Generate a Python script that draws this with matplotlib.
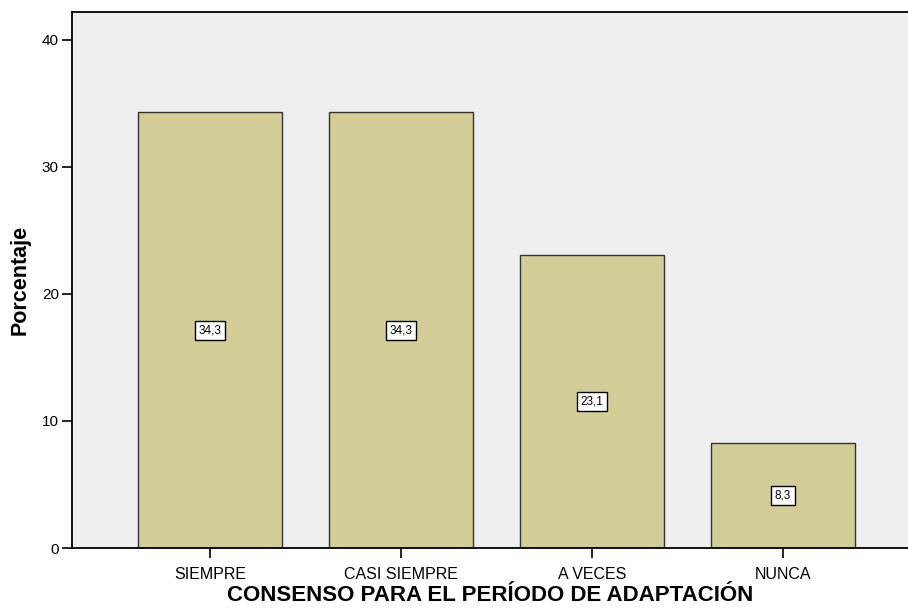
import matplotlib
matplotlib.use("Agg")
from matplotlib import pyplot as plt

# datos
categorias = ['SIEMPRE', 'CASI SIEMPRE', 'A VECES', 'NUNCA']
porcentajes = [34.3, 34.3, 23.1, 8.3]
etiquetas = ['34,3', '34,3', '23,1', '8,3']

plt.rcParams['font.family'] = ['Liberation Sans', 'DejaVu Sans']

fig = plt.figure(figsize=(9.08, 6.14), dpi=100)
ax = fig.add_axes([72/908, 66/614, 836/908, 536/614])
ax.set_facecolor('#efefef')

x = list(range(len(categorias)))
ax.bar(x, porcentajes, width=0.754, color='#d3ce97', edgecolor='#333333', linewidth=1.0, zorder=2)

for xi, v, t in zip(x, porcentajes, etiquetas):
    ax.text(xi, v / 2, t, ha='center', va='center', fontsize=8.5, zorder=3,
            bbox=dict(boxstyle='square,pad=0.3', facecolor='white', edgecolor='black', linewidth=1.0))

ax.set_xlim(-0.723, 3.654)
ax.set_ylim(0, 42.2)
ax.set_yticks([0, 10, 20, 30, 40])
ax.set_xticks(x)
ax.set_xticklabels(categorias)
ax.tick_params(axis='both', direction='out', length=7.5, width=1.2, labelsize=11, pad=2)
ax.tick_params(axis='x', labelsize=11.5, pad=6)

for s in ['left', 'bottom', 'top']:
    ax.spines[s].set_linewidth(1.3)
ax.spines['right'].set_visible(False)

ax.set_xlabel('CONSENSO PARA EL PERÍODO DE ADAPTACIÓN', fontsize=16, fontweight='bold', labelpad=2.5)
ax.set_ylabel('Porcentaje', fontsize=15.5, fontweight='bold', labelpad=8)

plt.savefig('out.png', dpi=100)
plt.close()
